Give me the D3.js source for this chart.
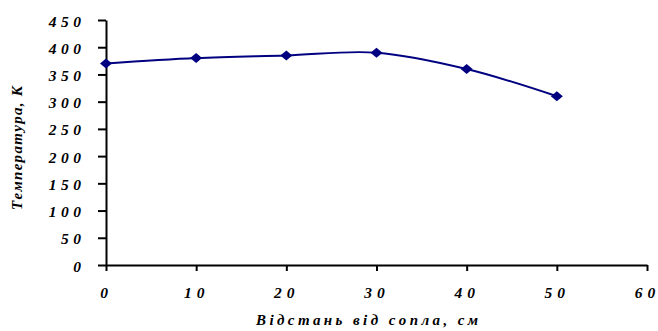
<!DOCTYPE html>
<html><head><meta charset="utf-8">
<script src="https://cdn.jsdelivr.net/npm/d3@7"></script>
<style>body{margin:0;background:#fff}svg{display:block}
text{font-family:"Liberation Serif","Times New Roman",serif;font-weight:bold;font-style:italic;fill:#000}</style>
</head><body>
<script>
const distances = [0, 10, 20, 30, 40, 50];
const temperatures = [370, 380, 385, 390, 360, 310];
const xTicks = [0, 10, 20, 30, 40, 50, 60];
const yTicks = [0, 50, 100, 150, 200, 250, 300, 350, 400, 450];
const xTitle = "Відстань від сопла, см";
const yTitle = "Температура, К";

const W = 658, H = 331;
const svg = d3.select("body").append("svg").attr("width", W).attr("height", H);
const x = d3.scaleLinear().domain([0, 60]).range([106, 647]);
const y = d3.scaleLinear().domain([0, 450]).range([265, 20]);

// letter-spaced text, each glyph placed in its own tspan
function spacedText(parent, str, size, ls, ax, by, align) {
  const chars = Array.from(str);
  const tmp = svg.append("text").attr("font-size", size);
  const adv = chars.map(c => {
    tmp.text(c === " " ? "\u00a0" : c);
    return tmp.node().getComputedTextLength();
  });
  tmp.remove();
  const total = d3.sum(adv) + (chars.length - 1) * ls;
  let x0 = align === "end" ? ax - total : align === "middle" ? ax - total / 2 : ax;
  const t = parent.append("text").attr("font-size", size).attr("y", by);
  chars.forEach((c, i) => {
    t.append("tspan").attr("x", x0).text(c === " " ? "\u00a0" : c);
    x0 += adv[i] + ls;
  });
  return t;
}

const yAx = svg.append("g").attr("transform", "translate(106,0)")
  .call(d3.axisLeft(y).tickValues(yTicks).tickSize(8).tickSizeOuter(0));
yAx.select(".domain").attr("stroke", "#000").attr("stroke-width", 2);
yAx.selectAll(".tick line").attr("stroke", "#000").attr("stroke-width", 2);
yAx.selectAll(".tick text").remove();
yTicks.forEach(v => spacedText(svg, String(v), 15.5, 4.5, 81, y(v) + 6.5, "end"));

const xAx = svg.append("g").attr("transform", "translate(0,265)")
  .call(d3.axisBottom(x).tickValues(xTicks).tickSize(6).tickSizeOuter(0));
xAx.select(".domain").attr("stroke", "#000").attr("stroke-width", 2);
xAx.selectAll(".tick line").attr("stroke", "#000").attr("stroke-width", 2);
xAx.selectAll(".tick text").remove();
xTicks.forEach(v => spacedText(svg, String(v), 15.5, 5, x(v) - 2, 297.5, "middle"));

spacedText(svg, xTitle, 15, 3.4, 367, 325, "middle");
const yg = svg.append("g").attr("transform", "translate(22,148) rotate(-90)");
spacedText(yg, yTitle, 15, 1.3, 0, 0, "middle");

const data = distances.map((d, i) => ({d, t: temperatures[i]}));
svg.append("path").datum(data)
  .attr("fill", "none").attr("stroke", "#000080").attr("stroke-width", 2)
  .attr("d", d3.line().x(p => x(p.d)).y(p => y(p.t)).curve(d3.curveCatmullRom.alpha(0.5)));

svg.selectAll(".m").data(data).enter().append("path")
  .attr("transform", p => `translate(${x(p.d)},${y(p.t)})`)
  .attr("d", "M0,-5L6,0L0,5L-6,0Z").attr("fill", "#000080");
</script>
</body></html>
